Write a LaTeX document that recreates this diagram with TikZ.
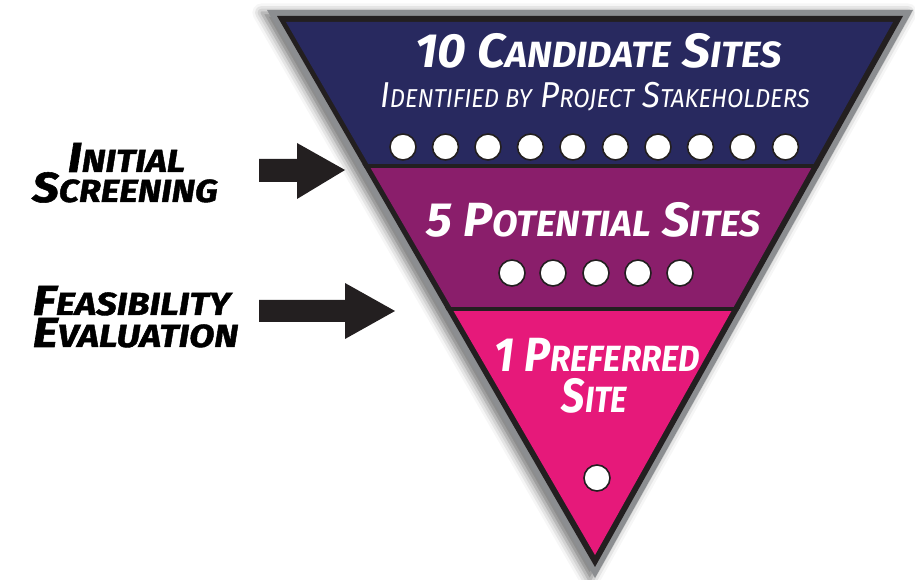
\documentclass[tikz,border=0pt]{standalone}
\usepackage{fontspec}
\setmainfont{Fira Sans}
\newfontfamily\heavyfont[BoldItalicFeatures={FakeBold=1.3}]{Fira Sans}
\usetikzlibrary{shadows.blur}

\definecolor{bandblue}{HTML}{28295F}
\definecolor{bandpurple}{HTML}{8A1E6B}
\definecolor{bandpink}{HTML}{E6197A}
\definecolor{rimgray}{HTML}{8C8E91}
\definecolor{inkdark}{HTML}{231F20}

% small capitals drawn as scaled-down upper case letters
\newcommand\lc[2][0.76]{\scalebox{#1}{#2}}
% set a text horizontally to a given width (in pt)
\newcommand\fitto[2]{\sbox0{#2}\pgfmathsetmacro\fitx{#1/\wd0}\scalebox{\fitx}[1]{\usebox0}}

\tikzset{
  headtxt/.style={anchor=base, inner sep=0pt, text=white,
    font=\fontsize{36}{36}\selectfont\bfseries\itshape},
  subtxt/.style={anchor=base, inner sep=0pt, text=white,
    font=\fontsize{27}{27}\selectfont\itshape},
  sidetxt/.style={anchor=base, inner sep=0pt, text=black,
    font=\heavyfont\fontsize{31.5}{31.5}\selectfont\bfseries\itshape},
  sitedot/.style={circle, fill=white, draw=inkdark, line width=1.2pt,
    minimum size=19.5pt, inner sep=0pt},
  blockarrow/.style={fill=inkdark},
}

\begin{document}
\begin{tikzpicture}[x=0.75pt, y=-0.75pt]
\useasboundingbox (0,0) rectangle (915,580);

% funnel rim with soft shadow
\fill[rimgray, blur shadow={shadow xshift=-4pt, shadow yshift=-2pt,
      shadow blur radius=7pt, shadow opacity=55}]
  (267,10) -- (913,10) -- (595,578) -- cycle;
\fill[inkdark] (277,16) -- (903,16) -- (595,567) -- cycle;

% three stages, separated by dark rules
\begin{scope}
  \clip (286,22) -- (893,22) -- (595,555) -- cycle;
  \fill[bandblue]   (250,0)   rectangle (950,166);
  \fill[bandpurple] (250,166) rectangle (950,309);
  \fill[bandpink]   (250,309) rectangle (950,600);
\end{scope}
\begin{scope}
  \clip (277,16) -- (903,16) -- (595,567) -- cycle;
  \draw[inkdark, line width=3pt] (250,166) -- (950,166);
  \draw[inkdark, line width=3pt] (250,309) -- (950,309);
\end{scope}

% stage texts
\node[headtxt] (cand) at (598.5,68) {\fitto{275}{10 C\lc{ANDIDATE} S\lc{ITES}}};
\node[subtxt]  (stake) at (595,108) {\fitto{322}{I\lc[0.72]{DENTIFIED BY} P\lc[0.72]{ROJECT} S\lc[0.72]{TAKEHOLDERS}}};
\node[headtxt] (pot) at (593.5,237) {\fitto{250}{5 P\lc{OTENTIAL} S\lc{ITES}}};
\node[headtxt] (pref) at (597.5,372) {\fitto{154}{1 P\lc{REFERRED}}};
\node[headtxt] (site) at (594.5,413) {\fitto{49}{S\lc{ITE}}};

% site markers
\foreach \i [count=\k] in {403,445.5,488,530.5,573,615.5,658,700.5,743,785.5}
  \node[sitedot] (c\k) at (\i,147) {};
\foreach \i [count=\k] in {512,553,596,638,680}
  \node[sitedot] (p\k) at (\i,273) {};
\node[sitedot] (best) at (597,478) {};

% process steps
\node[sidetxt] (init) at (126.5,172) {\fitto{88}{I\lc{NITIAL}}};
\node[sidetxt] (scr)  at (125,202)   {\fitto{139}{S\lc{CREENING}}};
\node[sidetxt] (feas) at (131.5,315) {\fitto{148}{F\lc{EASIBILITY}}};
\node[sidetxt] (eval) at (135.5,347) {\fitto{154}{E\lc{VALUATION}}};

\fill[blockarrow] (259,159) -- (297,159) -- (297,143) -- (345,170)
  -- (297,199) -- (297,182) -- (259,182) -- cycle;
\fill[blockarrow] (259,300) -- (345,300) -- (345,283) -- (395,311)
  -- (345,339) -- (345,322) -- (259,322) -- cycle;
\end{tikzpicture}
\end{document}
